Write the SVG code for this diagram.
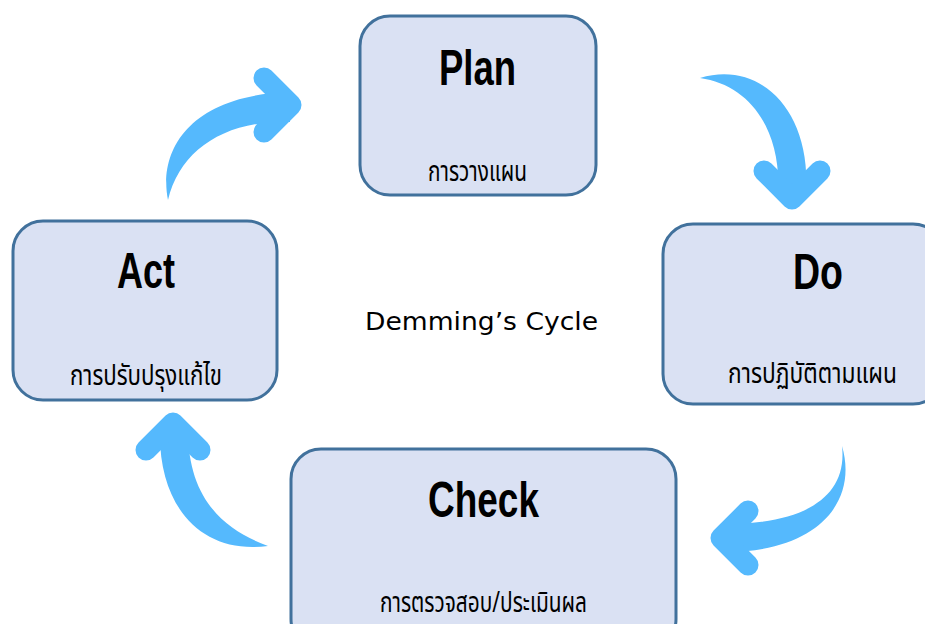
<svg xmlns="http://www.w3.org/2000/svg" width="925" height="624" viewBox="0 0 925 624">
<style>
.box{fill:#DAE1F3;stroke:#41719C;stroke-width:3}
.head{font-family:"Liberation Sans",Arial,sans-serif;font-weight:bold;font-size:50px;fill:#000;text-anchor:middle}
.th{font-family:"Noto Sans Thai","Noto Sans","DejaVu Sans",sans-serif;font-size:29px;fill:#000;text-anchor:middle}
.title{font-family:"DejaVu Sans",Verdana,sans-serif;font-size:24px;fill:#000;text-anchor:middle}
.body{fill:#55B9FD}
.chev{fill:none;stroke:#55B9FD;stroke-width:21;stroke-linecap:round;stroke-linejoin:round}
</style>
<rect width="925" height="624" fill="#fff"/>
<g id="connectors">
  <g id="act-plan">
    <path class="body" d="M168,200 C158,150 190,95 290,92 L290,122 C225,120 180,150 168,200 Z"/>
    <polyline class="chev" points="264,78 291,105 264,132"/>
  </g>
  <g id="plan-do">
    <path class="body" d="M700,78 C760,60 812,110 806,195 L778,195 C782,130 750,85 700,78 Z"/>
    <polyline class="chev" points="764,171 792,199 820,171"/>
  </g>
  <g id="do-check">
    <path class="body" d="M842,446 C858,500 820,552 725,552 L725,524 C800,524 848,500 842,446 Z"/>
    <polyline class="chev" points="748,511 721,538 748,565"/>
  </g>
  <g id="check-act">
    <path class="body" d="M160,430 C158,505 200,555 268,546 C225,530 188,500 188,430 Z"/>
    <polyline class="chev" points="146,450 173,423 200,450"/>
  </g>
</g>
<g id="plan">
  <rect class="box" x="360" y="16" width="236" height="179" rx="30"/>
  <text class="head" x="477.5" y="85" textLength="77" lengthAdjust="spacingAndGlyphs">Plan</text>
  <text class="th" x="477.5" y="181" textLength="99" lengthAdjust="spacingAndGlyphs">การวางแผน</text>
</g>
<g id="do">
  <rect class="box" x="663" y="224" width="280" height="180" rx="30"/>
  <text class="head" x="818" y="289" textLength="50" lengthAdjust="spacingAndGlyphs">Do</text>
  <text class="th" x="812.5" y="383" textLength="169" lengthAdjust="spacingAndGlyphs">การปฏิบัติตามแผน</text>
</g>
<g id="check">
  <rect class="box" x="291" y="449" width="385" height="200" rx="30"/>
  <text class="head" x="483.5" y="517" textLength="111" lengthAdjust="spacingAndGlyphs">Check</text>
  <text class="th" x="483.5" y="612" textLength="207" lengthAdjust="spacingAndGlyphs">การตรวจสอบ/ประเมินผล</text>
</g>
<g id="act">
  <rect class="box" x="13" y="221" width="264" height="179" rx="30"/>
  <text class="head" x="146" y="288" textLength="58" lengthAdjust="spacingAndGlyphs">Act</text>
  <text class="th" x="146" y="385" textLength="152" lengthAdjust="spacingAndGlyphs">การปรับปรุงแก้ไข</text>
</g>
<g id="center-label">
  <text class="title" x="481.5" y="330" textLength="233" lengthAdjust="spacingAndGlyphs">Demming’s Cycle</text>
</g>
</svg>
